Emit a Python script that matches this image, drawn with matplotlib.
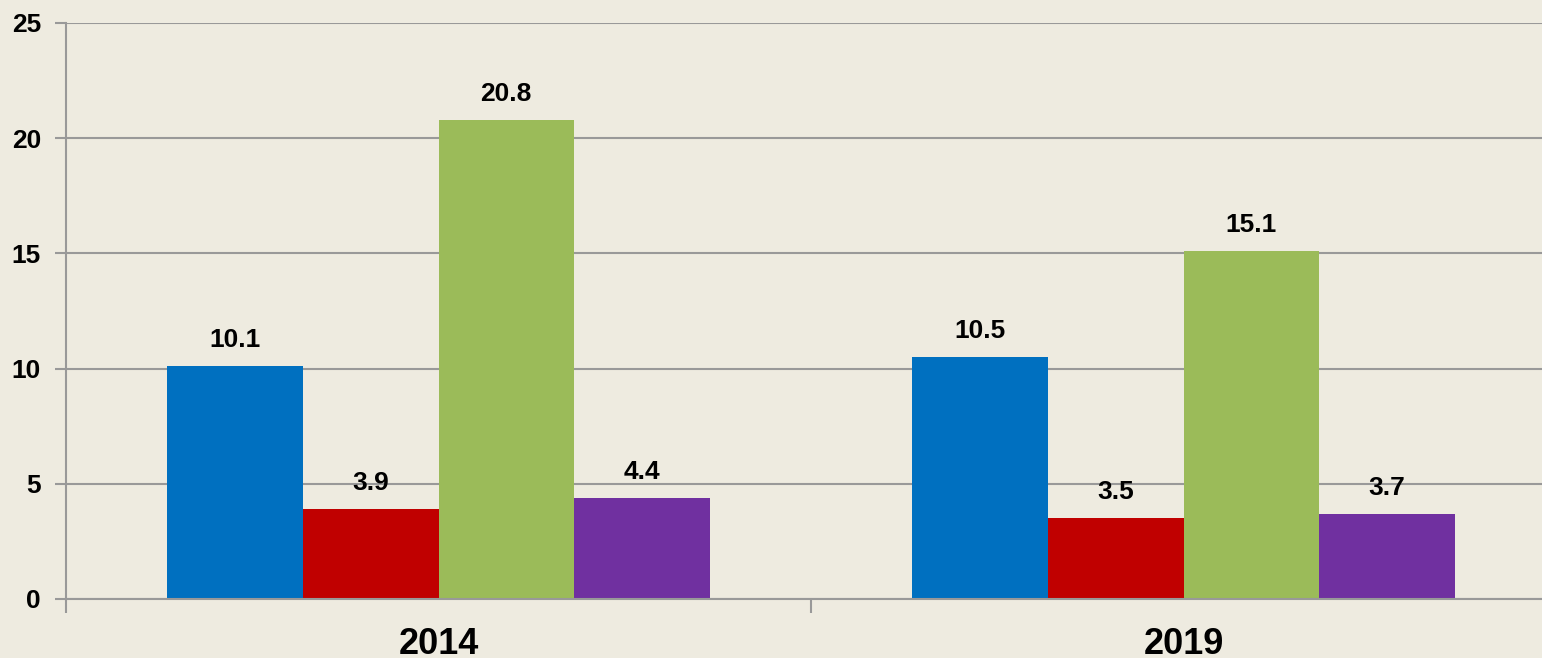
import matplotlib
matplotlib.use("Agg")
import matplotlib.pyplot as plt
import numpy as np

years = ["2014", "2019"]
series_a = [10.1, 10.5]
series_b = [3.9, 3.5]
series_c = [20.8, 15.1]
series_d = [4.4, 3.7]
colors = ["#0070C0", "#C00000", "#9BBB59", "#7030A0"]
yticks = [0, 5, 10, 15, 20, 25]

plt.rcParams['font.family'] = ['Liberation Sans', 'DejaVu Sans']
bg = "#EEEBE0"
fig = plt.figure(figsize=(15.42, 6.58), dpi=100, facecolor=bg)
W, H = 1542, 658
ax = fig.add_axes([66 / W, (H - 599) / H, (W - 66) / W, (599 - 23) / H])
ax.set_facecolor(bg)

x = np.arange(len(years))
w = 0.182
series = [series_a, series_b, series_c, series_d]
for i, (vals, c) in enumerate(zip(series, colors)):
    pos = x + (i - 1.5) * w
    bars = ax.bar(pos, vals, width=w, color=c, zorder=3)
    for b, v in zip(bars, vals):
        ax.annotate(f"{v}", (b.get_x() + b.get_width() / 2, v), xytext=(0, 13.7),
                    textcoords="offset points", ha="center", va="baseline",
                    fontsize=19, fontweight="bold", color="black")

ax.set_yticks(yticks)
ax.set_yticklabels([str(t) for t in yticks], fontsize=19, fontweight="bold")
ax.yaxis.grid(True, color="#999999", linewidth=1.5, zorder=0)
ax.tick_params(axis="y", length=8, width=1.5, color="#999999", pad=10)

ax.set_xticks(x)
ax.set_xticklabels(years, fontsize=26, fontweight="bold")
ax.tick_params(axis="x", which="major", length=0, pad=20)
ax.set_xticks([-0.5, 0.5], minor=True)
ax.tick_params(axis="x", which="minor", length=10, width=1.5, color="#999999")

ax.set_xlim(-0.5, (W - 66) / 745 - 0.5)
ax.set_ylim(0, 25)

for s in ["top", "right"]:
    ax.spines[s].set_visible(False)
for s in ["left", "bottom"]:
    ax.spines[s].set_color("#999999")
    ax.spines[s].set_linewidth(1.5)
    ax.spines[s].set_zorder(4)

fig.savefig("out.png", dpi=100, facecolor=bg)
